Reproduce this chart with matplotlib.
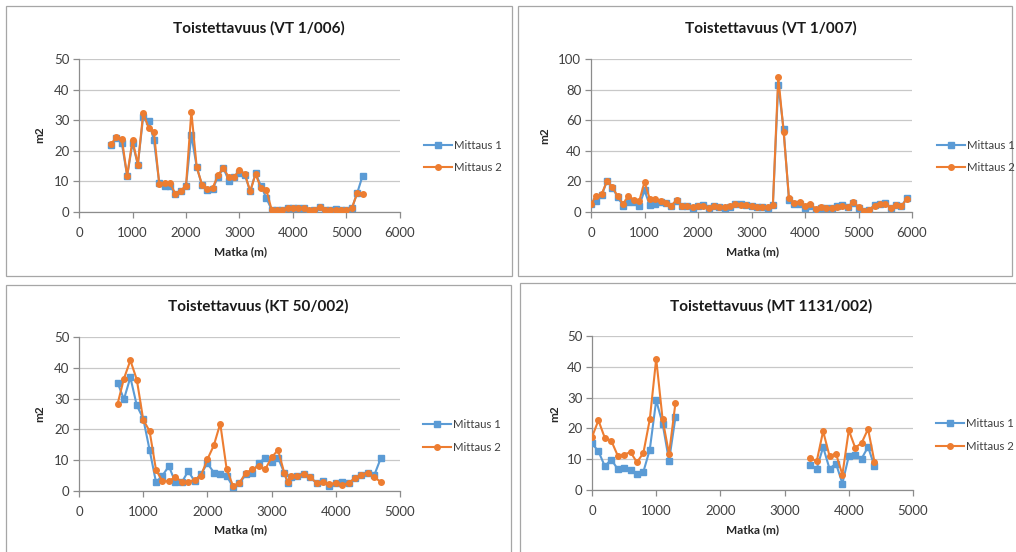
import numpy as np
import matplotlib
matplotlib.use("Agg")
import matplotlib.pyplot as plt
from matplotlib.patches import Rectangle
from matplotlib.lines import Line2D

plt.rcParams['font.family'] = ['Lato', 'DejaVu Sans']

BLUE = '#5B9BD5'
ORANGE = '#ED7D31'
GRID = '#c8c8c8'
AXIS = '#8c8c8c'

# ---- VT 1/006 ----
vt006_x = list(range(600, 5301, 100))
vt006_m1 = [22, 24.1, 22.5, 11.8, 22.5, 15.5, 31.2, 29.8, 23.5, 9.5, 8.4, 8.4, 6, 6.7, 8.4,
            25.2, 14.7, 8.7, 7.3, 7.5, 11.6, 14.3, 10.2, 11.6, 12.7, 12.2, 6.7, 12.7, 8.6, 4.6,
            0.8, 0.7, 0.7, 1.4, 1.2, 1.2, 1.4, 0.4, 0.8, 1.6, 0.7, 0.8, 1.1, 0.8, 0.8, 1.2, 6.2, 11.8]
vt006_m2 = [22.2, 24.5, 24, 11.8, 23.5, 15.5, 32.3, 27.6, 26.2, 9.2, 9.5, 9.5, 6, 7, 8.6,
            32.8, 14.7, 8.9, 7.6, 7.9, 12.2, 14.3, 11.4, 11.6, 13.6, 12.5, 6.7, 12.4, 7.8, 7.3,
            0.8, 0.8, 0.7, 1.4, 1.2, 1.2, 1.4, 0.5, 0.8, 1.6, 0.7, 0.8, 0.8, 0.8, 0.8, 1.2, 6.2, 6.0]

# ---- VT 1/007 ----
vt007_x = list(range(0, 5901, 100))
vt007_m1 = [5.2, 7, 10.9, 20.4, 16, 9.6, 4.1, 6.5, 6.5, 3.9,
            14.1, 4.3, 5.4, 6.3, 5.9, 3.7, 7, 3.7, 3.7, 2.8,
            3.7, 4.6, 2.6, 3.7, 3.3, 2.8, 3.3, 5, 5.2, 4.6,
            3.7, 3.3, 3.1, 2.8, 4.8, 83.3, 54.1, 8, 5.4, 5,
            2.6, 3.7, 1.5, 2.8, 2.4, 2.8, 3.7, 4.3, 3.5, 5.9,
            2.6, 0.9, 1.5, 4.3, 5, 5.7, 2.8, 4.6, 3.7, 8.9]
vt007_m2 = [5.2, 10.6, 11.7, 20.4, 16.3, 10.2, 5.4, 10.6, 8, 7,
            19.6, 8.5, 8.5, 7, 5.9, 4.1, 8, 4.1, 3.7, 3.2,
            3.7, 4.1, 2.6, 3.7, 3.3, 3, 3.7, 5, 4.8, 4.3,
            3.7, 3.3, 3.3, 3, 4.8, 88.5, 52.6, 9.3, 5.9, 6.3,
            4.1, 5.4, 2, 3, 2.6, 2.6, 3.3, 3.7, 3.3, 6.7,
            3.3, 0.9, 1.5, 4.1, 5, 5.5, 2.8, 4.6, 3.7, 8.5]

# ---- KT 50/002 ----
kt50_x = list(range(600, 3201, 100)) + [3250] + list(range(3300, 4701, 100))
kt50_m1 = [35.2, 29.8, 36.9, 27.8, 23.5, 13.3, 2.8, 5, 8.1, 2.8, 2.8, 6.4, 3.3, 5.5, 9,
           6, 5.5, 5, 1.2, 2.5, 5.4, 5.9, 9.2, 10.6, 9.5, 10.8, 5.7, 2.6, 4.6, 4.8,
           5.6, 4.4, 2.6, 3.3, 1.5, 2.6, 2.9, 2.6, 4.1, 5.3, 6, 5.2, 10.6]
kt50_m2 = [28.2, 36.5, 42.4, 36.2, 23.2, 19.4, 6.8, 3.2, 3.2, 4.6, 3, 3, 3.6, 5, 10.3,
           14.8, 21.9, 7.1, 1.6, 2.7, 5.9, 7, 8.1, 7, 10.9, 13.3, 5.7, 3, 4.9, 4.9,
           5.6, 4.4, 2.7, 3, 2.2, 2.7, 1.8, 2.7, 4.1, 5.3, 6, 4.4, 3]

# ---- MT 1131/002 ----
mt1131_x = list(range(0, 1301, 100)) + list(range(3400, 4401, 100))
mt1131_m1 = [15.1, 12.6, 7.7, 9.9, 6.8, 7.2, 6.6, 5.3, 5.9, 13.1, 29.1, 21.5, 9.5, 23.6,
             8.2, 6.9, 13.9, 6.9, 8.6, 2.1, 11, 11.5, 10.2, 14, 7.7]
mt1131_m2 = [17.2, 22.6, 16.9, 16, 11.2, 11.5, 12.3, 9, 12, 22.9, 42.6, 22.9, 11.7, 28.3,
             10.4, 9.3, 19.1, 11, 11.8, 5, 19.4, 13.7, 15.3, 19.8, 9.1]

W, H = 1016, 552
fig = plt.figure(figsize=(W / 100, H / 100), dpi=100)


def fx(px):
    return px / W


def fy(py):
    return 1 - py / H


def frame(x0, y0, x1, y1):
    fig.patches.append(Rectangle((fx(x0), fy(y1)), fx(x1) - fx(x0), fy(y0) - fy(y1),
                                 transform=fig.transFigure, fill=False,
                                 edgecolor='#a6a6a6', linewidth=0.9))


def runs(x, y):
    # split a series into contiguous stretches so missing stations leave a gap
    x = np.asarray(x, float)
    y = np.asarray(y, float)
    cut = np.where(np.diff(x) > 100)[0] + 1
    return zip(np.split(x, cut), np.split(y, cut))


def panel(box, title, x, m1, m2, xmax, ymax, ystep, title_xy, ylab_xy, xlab_xy, leg_xy):
    left, top, right, bottom = box
    ax = fig.add_axes([fx(left), fy(bottom), fx(right) - fx(left), fy(top) - fy(bottom)])
    for xs, ys in runs(x, m1):
        ax.plot(xs, ys, color=BLUE, lw=1.5, marker='s', ms=4.6, mec=BLUE, mfc=BLUE, zorder=3)
    for xs, ys in runs(x, m2):
        ax.plot(xs, ys, color=ORANGE, lw=1.5, marker='o', ms=4.0, mec=ORANGE, mfc=ORANGE, zorder=4)
    ax.set_xlim(0, xmax)
    ax.set_ylim(0, ymax)
    ax.set_xticks(np.arange(0, xmax + 1, 1000))
    ax.set_yticks(np.arange(0, ymax + 1, ystep))
    ax.yaxis.grid(True, color=GRID, lw=0.9)
    ax.set_axisbelow(True)
    for s in ('top', 'right'):
        ax.spines[s].set_visible(False)
    for s in ('left', 'bottom'):
        ax.spines[s].set_color(AXIS)
        ax.spines[s].set_linewidth(0.9)
    ax.tick_params(axis='both', colors=AXIS, labelcolor='#404040', labelsize=9.5,
                   length=4, width=0.9, direction='out')
    ax.tick_params(axis='x', pad=7)
    ax.tick_params(axis='y', pad=3)
    ax.patch.set_alpha(0)
    fig.text(fx(title_xy[0]), fy(title_xy[1]), title, ha='center', va='center',
             fontsize=11, fontweight='bold', color='#1a1a1a')
    fig.text(fx(ylab_xy[0]), fy(ylab_xy[1]), 'm2', ha='center', va='center', rotation=90,
             fontsize=8.5, fontweight='bold', color='#262626')
    fig.text(fx(xlab_xy[0]), fy(xlab_xy[1]), 'Matka (m)', ha='center', va='center',
             fontsize=8.5, fontweight='bold', color='#262626')
    handles = [Line2D([], [], color=BLUE, lw=1.5, marker='s', ms=4.6),
               Line2D([], [], color=ORANGE, lw=1.5, marker='o', ms=4.0)]
    fig.legend(handles, ['Mittaus 1', 'Mittaus 2'], loc='center left',
               bbox_to_anchor=(fx(leg_xy[0]), fy(leg_xy[1])), frameon=False,
               fontsize=8.2, handlelength=2.5, handletextpad=0.15, labelspacing=1.0,
               borderpad=0, borderaxespad=0, labelcolor='#404040')
    return ax


frame(6, 6, 512, 276)
frame(518, 6, 1012, 276)
frame(6, 285, 511, 560)
frame(520, 283, 1020, 560)

panel((79, 59, 400, 212), 'Toistettavuus (VT 1/006)', vt006_x, vt006_m1, vt006_m2,
      6000, 50, 10, (259, 28), (40, 135), (240, 252), (424, 156.5))
panel((591, 59, 912, 212), 'Toistettavuus (VT 1/007)', vt007_x, vt007_m1, vt007_m2,
      6000, 100, 20, (771, 28), (545, 136), (752, 252), (937, 156.5))
panel((79, 337, 400, 491), 'Toistettavuus (KT 50/002)', kt50_x, kt50_m1, kt50_m2,
      5000, 50, 10, (258, 306), (40, 414), (240, 530), (423, 436))
panel((592, 336, 913, 490), 'Toistettavuus (MT 1131/002)', mt1131_x, mt1131_m1, mt1131_m2,
      5000, 50, 10, (771, 306), (555, 414), (752, 530), (936, 435))

fig.savefig('out.png', dpi=100)
